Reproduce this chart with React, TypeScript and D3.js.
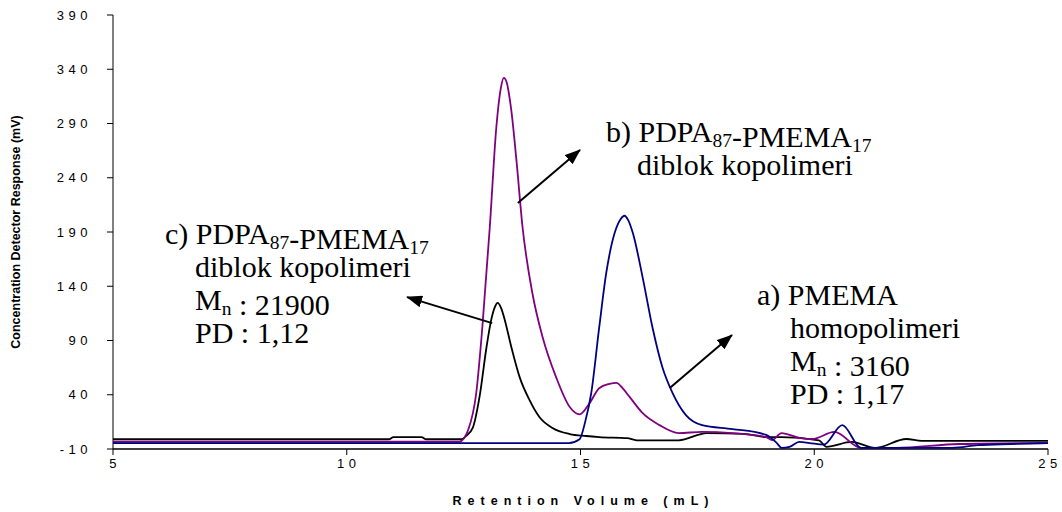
import React from 'react';
import * as d3 from 'd3';

// c) PDPA87-PMEMA17 diblok kopolimeri (black)
const copolymerCX = [5, 10.9, 11.0, 11.6, 11.7, 12.45, 12.55, 12.7, 12.84, 12.99, 13.09, 13.17, 13.23, 13.3, 13.38, 13.52, 13.7, 13.91, 14.12, 14.4, 14.77, 15.12, 15.4, 16.0, 16.2, 17.1, 17.7, 18.5, 18.97, 19.3, 20.1, 20.26, 20.8, 21.3, 21.97, 22.3, 25];
const copolymerCY = [-1, -1, 1, 1, -1, -1, 2, 10, 38, 84, 109, 121, 124.6, 120, 109, 84, 56, 35, 19.5, 9.4, 3.8, 2, 1, 0, -2, -2, 4.7, 4, 1, 1, -2, -8, -3.5, -9, -0.8, -2.5, -2.5];

// b) PDPA87-PMEMA17 diblok kopolimeri (purple)
const copolymerBX = [5, 12.41, 12.6, 12.77, 12.9, 13.06, 13.2, 13.3, 13.36, 13.42, 13.52, 13.63, 13.76, 13.97, 14.19, 14.48, 14.77, 14.98, 15.19, 15.4, 15.62, 15.77, 15.9, 16.05, 16.33, 16.69, 17.1, 17.6, 18.25, 18.97, 19.1, 19.3, 19.7, 19.96, 20.43, 21.0, 21.75, 23.1, 25];
const copolymerBY = [-3.3, -3.3, 8, 41.6, 102, 194.6, 286.8, 323.6, 332, 328, 302, 256, 194.6, 133.8, 93, 56, 28.7, 22, 32, 46, 50, 51, 46, 38, 23, 12, 4.7, 5.7, 4.7, 1, -1.7, 4.7, 0, -0.8, 5.7, -9, -9, -5.4, -4.5];

// a) PMEMA homopolimeri (blue)
const homopolymerX = [5, 14.75, 14.98, 15.1, 15.23, 15.4, 15.55, 15.73, 15.86, 15.94, 16.02, 16.12, 16.33, 16.54, 16.75, 16.97, 17.26, 17.6, 18.25, 18.97, 19.2, 19.3, 19.47, 19.68, 19.9, 20.2, 20.6, 21.0, 22.95, 23.5, 24.2, 25];
const homopolymerY = [-4.5, -4.5, -1, 15, 41.6, 102, 152, 189, 202, 205, 201, 189, 148, 102, 65.6, 41.6, 21, 12, 8.4, 3, -4.5, -9, -8, -3.5, -4.5, -6, 12, -9, -9, -6.5, -5.4, -4.5];

const yTicks = [-10, 40, 90, 140, 190, 240, 290, 340, 390];
const xTicks = [5, 10, 15, 20, 25];

const W = 1062;
const H = 512;

const x = d3.scaleLinear().domain([5, 25]).range([113, 1048]);
const y = d3.scaleLinear().domain([-10, 390]).range([449, 15]);

const zip = (xs: number[], ys: number[]) => xs.map((v, i) => [v, ys[i]] as [number, number]);

const series = [
  { name: 'c', color: '#000000', pts: zip(copolymerCX, copolymerCY) },
  { name: 'b', color: '#800080', pts: zip(copolymerBX, copolymerBY) },
  { name: 'a', color: '#000080', pts: zip(homopolymerX, homopolymerY) },
];

// arrows, in data units: from curve to label
const arrows = [
  { from: [13.11, 106], to: [11.29, 130] },
  { from: [13.66, 216.7], to: [14.99, 265.6] },
  { from: [16.91, 46.2], to: [18.24, 95] },
];

const line = d3
  .line<[number, number]>()
  .x(d => x(d[0]))
  .y(d => y(d[1]))
  .curve(d3.curveMonotoneX);

const serif = '"Liberation Serif", "Times New Roman", serif';
const sans = '"Liberation Sans", Arial, sans-serif';
const FS = 30;
const SUB = 19.5;
const LH = 33;

const Sub = ({ t }: { t: string }) => (
  <>
    <tspan fontSize={SUB} dy={5}>{t}</tspan>
    <tspan dy={-5}></tspan>
  </>
);

const Label = ({ x0, x1, y0, lines }: { x0: number; x1: number; y0: number; lines: React.ReactNode[] }) => (
  <text fontFamily={serif} fontSize={FS} fill="#000">
    {lines.map((l, i) => (
      <tspan key={i} x={i === 0 ? x0 : x1} y={y0 + i * LH}>{l}</tspan>
    ))}
  </text>
);

export default function App() {
  const copoLine = (p: string) => (
    <>
      {p} PDPA<Sub t="87" />-PMEMA<Sub t="17" />
    </>
  );
  return (
    <svg width={W} height={H} style={{ position: 'absolute', left: 0, top: 0, background: '#fff' }}>
      <defs>
        <marker id="head2" viewBox="0 0 16 12" refX="15" refY="6" markerWidth="16" markerHeight="12" markerUnits="userSpaceOnUse" orient="auto">
          <path d="M0,0 L16,6 L0,12 z" fill="#000" />
        </marker>
      </defs>

      {/* axes */}
      <line x1={x(5)} x2={x(5)} y1={y(390)} y2={y(-10)} stroke="#000" strokeWidth={1} />
      <line x1={x(5)} x2={x(25)} y1={y(-10)} y2={y(-10)} stroke="#000" strokeWidth={1.5} />
      {yTicks.map(t => (
        <g key={t}>
          <line x1={x(5) - 6} x2={x(5)} y1={y(t)} y2={y(t)} stroke="#000" />
          <text x={92} y={y(t)} dy="0.35em" textAnchor="end" fontFamily={sans} fontSize={13} letterSpacing={4.5} fill="#000">{t}</text>
        </g>
      ))}
      {xTicks.map(t => (
        <g key={t}>
          <line x1={x(t)} x2={x(t)} y1={y(-10)} y2={y(-10) + 6} stroke="#000" />
          <text x={x(t) + 2} y={468} textAnchor="middle" fontFamily={sans} fontSize={13} letterSpacing={4.5} fill="#000">{t}</text>
        </g>
      ))}
      <text x={(x(5) + x(25)) / 2 + 3} y={505} textAnchor="middle" fontFamily={sans} fontSize={12.5} fontWeight="bold" letterSpacing={6} fill="#000">Retention Volume (mL)</text>
      <text transform={`translate(20, ${(y(390) + y(-10)) / 2}) rotate(-90)`} textAnchor="middle" fontFamily={sans} fontSize={12.5} fontWeight="bold" fill="#000">Concentration Detector Response (mV)</text>

      {/* curves */}
      {series.map(s => (
        <path key={s.name} d={line(s.pts) ?? ''} fill="none" stroke={s.color} strokeWidth={1.8} strokeLinejoin="round" />
      ))}

      {/* arrows */}
      {arrows.map((a, i) => (
        <line key={i} x1={x(a.from[0])} y1={y(a.from[1])} x2={x(a.to[0])} y2={y(a.to[1])} stroke="#000" strokeWidth={2} markerEnd="url(#head2)" />
      ))}

      {/* labels */}
      <Label x0={165} x1={195} y0={244} lines={[copoLine('c)'), 'diblok kopolimeri', <>M<Sub t="n" /> : 21900</>, 'PD : 1,12']} />
      <Label x0={606} x1={637} y0={142} lines={[copoLine('b)'), 'diblok kopolimeri']} />
      <Label x0={757} x1={790} y0={305} lines={['a) PMEMA', 'homopolimeri', <>M<Sub t="n" /> : 3160</>, 'PD : 1,17']} />
    </svg>
  );
}
